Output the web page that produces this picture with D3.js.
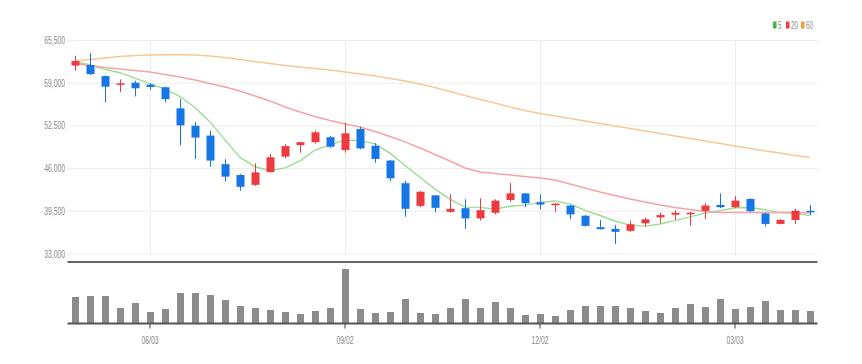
<!DOCTYPE html>
<html>
<head>
<meta charset="utf-8">
<title>Weekly candles</title>
<style>
  body { margin: 0; background: #fff; }
  svg text { font-family: "Liberation Sans", Arial, sans-serif; }
</style>
</head>
<body>
<svg id="chart" width="862" height="364"></svg>
<script src="https://cdnjs.cloudflare.com/ajax/libs/d3/7.8.5/d3.min.js"></script>
<script>
// weekly dates (Mon)
var dates = ["2024-04-29","2024-05-06","2024-05-13","2024-05-20","2024-05-27","2024-06-03","2024-06-10","2024-06-17","2024-06-24","2024-07-01",
  "2024-07-08","2024-07-15","2024-07-22","2024-07-29","2024-08-05","2024-08-12","2024-08-19","2024-08-26","2024-09-02","2024-09-09",
  "2024-09-16","2024-09-23","2024-09-30","2024-10-07","2024-10-14","2024-10-21","2024-10-28","2024-11-04","2024-11-11","2024-11-18",
  "2024-11-25","2024-12-02","2024-12-09","2024-12-16","2024-12-23","2024-12-30","2025-01-06","2025-01-13","2025-01-20","2025-01-27",
  "2025-02-03","2025-02-10","2025-02-17","2025-02-24","2025-03-03","2025-03-10","2025-03-17","2025-03-24","2025-03-31","2025-04-07"];

var opens = [61600,61700,60000,58800,59000,58700,58300,55100,52450,50950,46600,44950,43450,45400,47750,49500,49950,50700,48750,51950,
  49400,47150,43700,40250,41850,39350,39900,38350,39200,41150,42150,40800,40350,40300,38750,37000,36750,36450,37600,38500,
  38900,39000,39500,40400,40050,41300,39100,37500,38100,39500];
var highs = [63100,63500,60100,59500,59300,58900,58400,56500,53050,51700,47350,45100,46750,48150,49650,50000,51700,50900,52900,52300,
  49800,47250,44050,42500,41900,42000,41250,41400,41250,43700,42200,42000,40650,40400,38850,38100,37350,38000,38450,39200,
  39600,39350,40650,42150,41750,41400,39200,38250,39800,40400];
var lows = [60800,60200,56000,57600,56900,57900,56000,49500,47400,46200,43950,42550,43300,45300,47500,48350,49750,49100,48350,48850,
  46800,44050,38600,40050,39250,39200,36750,38000,38950,40900,40050,39750,39350,38200,37100,36650,34450,36300,37100,37600,
  38100,37250,38200,39900,39900,39300,37100,37450,37500,38850];
var closes = [62300,60300,58400,58900,58150,58350,56500,52500,50650,47150,44700,43150,45350,47650,49350,49950,51450,49250,51300,49000,
  47400,44450,39800,42400,39950,39800,38350,39600,41050,42150,40650,40450,40600,38950,37200,36700,36300,37450,38200,38850,
  39200,39200,40300,40050,41050,39450,37500,38100,39500,39300];
// volume, thousand shares
var volumes = [2600,2700,2700,1500,2000,1100,1400,3000,3000,2800,2300,1700,1500,1300,1100,900,1200,1500,5400,1400,
  1000,1100,2400,1000,900,1500,2400,1500,2100,1500,800,900,700,1300,1700,1700,1700,1500,1200,1000,
  1500,1900,1600,2400,1400,1600,2200,1300,1300,1200];

// moving averages as shown on the chart
var ma5 = [62200,61700,61040,60520,59700,58820,58060,56880,55230,53030,50300,47630,46200,45600,46040,47090,48750,49530,50260,50190,
  49680,48280,46390,44610,42800,41280,40060,40020,39750,40190,40360,40780,40980,40560,39570,38780,37950,37320,37170,37500,
  38000,38580,39150,39520,39960,40010,39670,39230,39120,38770];
var ma20 = [61920,61620,61310,61090,60860,60630,60250,59870,59410,58880,58350,57740,56980,56220,55300,54540,53860,53250,52720,52260,
  51570,50810,49980,49060,48070,47080,46020,45410,45180,44950,44720,44500,44190,43580,42970,42370,41830,41300,40840,40390,
  40010,39700,39400,39250,39250,39250,39250,39250,39250,39170];
var ma60 = [62300,62530,62760,62990,63140,63220,63250,63250,63220,63060,62840,62530,62230,61920,61620,61390,61160,60930,60630,60330,
  60020,59640,59260,58800,58270,57660,57050,56440,55910,55300,54770,54310,53930,53550,53170,52790,52410,52030,51650,51270,
  50890,50510,50130,49750,49370,48990,48610,48300,47920,47620];

var priceTicks = [33000, 39500, 46000, 52500, 59000, 65500];
var dateTicks = ["2024-06-03", "2024-09-02", "2024-12-02", "2025-03-03"];
var maNames = ["5", "20", "60"];

var UP = "#ec3a3f", DOWN = "#1776e6";
var maLine = ["#9bdc93", "#f5a3a5", "#f9c796"];
var maKey = ["#3dbb3f", "#ee3e42", "#f29a3a"];

var svg = d3.select("#chart");
var left = 67.5, right = 817.5;

var x = d3.scaleBand().domain(dates).range([left, right]).paddingInner(0.47).paddingOuter(0.235);
var cx = function (d) { return x(d) + x.bandwidth() / 2; };
var y = d3.scaleLinear().domain([33000, 65500]).range([253.5, 40]);
var yv = d3.scaleLinear().domain([0, 6100]).range([323, 262]);

// narrow text: about 3.45px per character
function squeeze(sel) {
  sel.attr("textLength", function () { return this.textContent.length * 3.45; })
    .attr("lengthAdjust", "spacingAndGlyphs");
}

// grid
var yAxis = d3.axisLeft(y).tickValues(priceTicks).tickSize(-(right - left)).tickPadding(2.5)
  .tickFormat(d3.format(","));
var gy = svg.append("g").attr("transform", "translate(" + left + ",0)").call(yAxis);
gy.select(".domain").remove();
gy.selectAll(".tick line").attr("stroke", "#ececec");
gy.selectAll(".tick text").attr("fill", "#8a8a8a").style("font-size", "11px").call(squeeze);

svg.append("g").selectAll("line").data(dateTicks).join("line")
  .attr("x1", function (d) { return Math.round(cx(d)) + 0.5; })
  .attr("x2", function (d) { return Math.round(cx(d)) + 0.5; })
  .attr("y1", 40).attr("y2", 256)
  .attr("stroke", "#ececec");

// moving averages
var idx = d3.range(dates.length);
[ma5, ma20, ma60].forEach(function (series, k) {
  var line = d3.line().x(function (i) { return cx(dates[i]); }).y(function (i) { return y(series[i]); });
  svg.append("path").datum(idx).attr("d", line)
    .attr("fill", "none").attr("stroke", maLine[k]).attr("stroke-width", 1.4);
});

// candles
var candle = svg.append("g").selectAll("g").data(idx).join("g");
candle.append("line")
  .attr("x1", function (i) { return Math.round(cx(dates[i])) + 0.5; })
  .attr("x2", function (i) { return Math.round(cx(dates[i])) + 0.5; })
  .attr("y1", function (i) { return y(highs[i]); })
  .attr("y2", function (i) { return y(lows[i]); })
  .attr("stroke", function (i) { return closes[i] >= opens[i] ? UP : DOWN; });
candle.append("rect")
  .attr("x", function (i) { return Math.round(cx(dates[i])) - 3.5; })
  .attr("width", 8)
  .attr("y", function (i) { return y(Math.max(opens[i], closes[i])); })
  .attr("height", function (i) { return Math.max(1.5, Math.abs(y(opens[i]) - y(closes[i]))); })
  .attr("fill", function (i) { return closes[i] >= opens[i] ? UP : DOWN; });

// separator
svg.append("line").attr("x1", left).attr("x2", right).attr("y1", 262).attr("y2", 262)
  .attr("stroke", "#333").attr("stroke-width", 1.5);

// volume
svg.append("g").selectAll("rect").data(idx).join("rect")
  .attr("x", function (i) { return Math.round(cx(dates[i])) - 3; })
  .attr("width", 7)
  .attr("y", function (i) { return yv(volumes[i]); })
  .attr("height", function (i) { return yv(0) - yv(volumes[i]); })
  .attr("fill", "#8c8c8c");

var xAxis = d3.axisBottom(x).tickValues(dateTicks).tickSize(5).tickPadding(8)
  .tickFormat(function (d) { return d.slice(5, 7) + "/" + d.slice(8, 10); });
var gx = svg.append("g").attr("transform", "translate(0,323.5)").call(xAxis);
gx.select(".domain").attr("d", "M" + left + ",0H" + right).attr("stroke", "#555").attr("stroke-width", 2);
gx.selectAll(".tick line").attr("stroke", "#444");
gx.selectAll(".tick text").attr("fill", "#8a8a8a").style("font-size", "11px").call(squeeze);

// legend
var lg = svg.append("g").selectAll("g").data(maNames).join("g")
  .attr("transform", function (d, k) { return "translate(" + [773, 786, 801][k] + ",0)"; });
lg.append("rect").attr("x", 0).attr("y", 21.5).attr("width", 3.5).attr("height", 7)
  .attr("fill", function (d, k) { return maKey[k]; });
lg.append("text").attr("x", 5).attr("y", 28.5).text(function (d) { return d; })
  .attr("fill", "#8a8a8a").style("font-size", "10px").call(squeeze);
</script>
</body>
</html>
